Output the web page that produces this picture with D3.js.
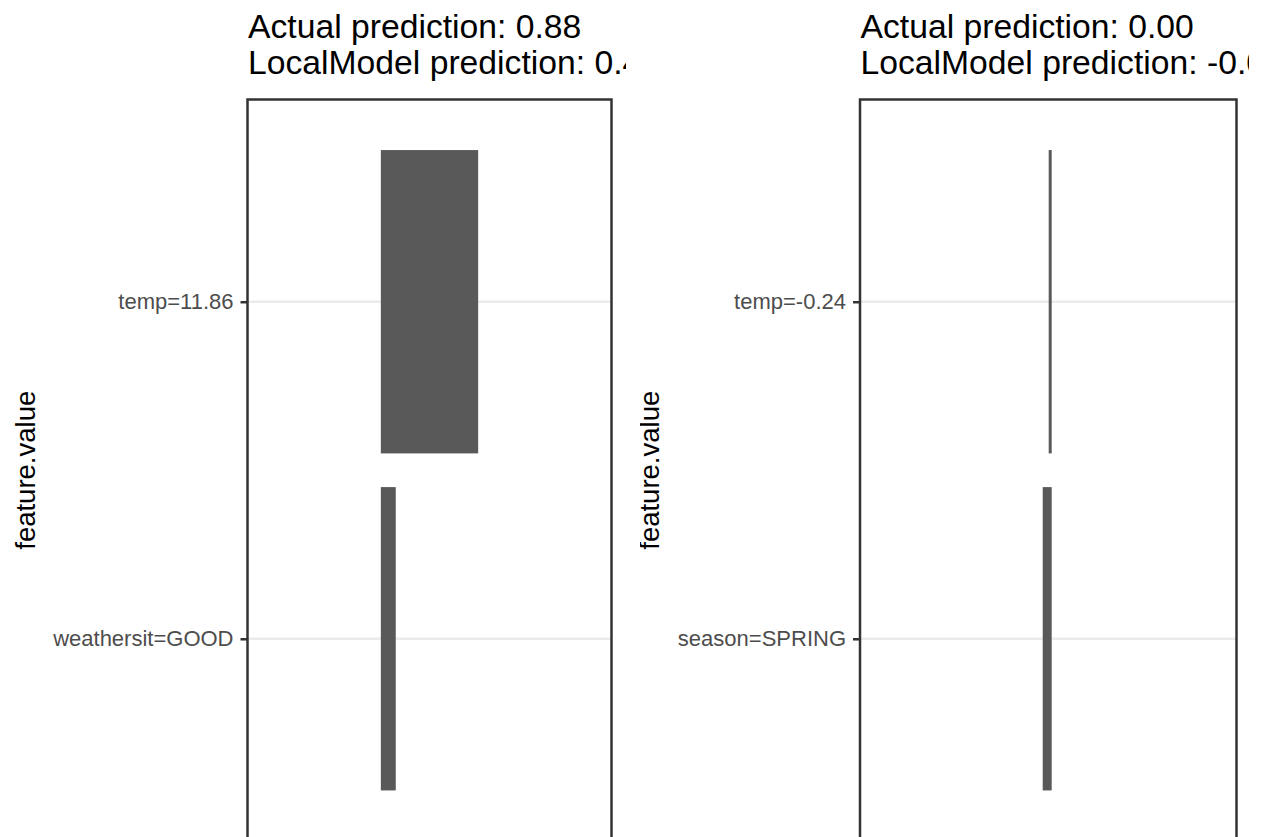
<!DOCTYPE html>
<html>
<head>
<meta charset="utf-8">
<script src="https://cdn.jsdelivr.net/npm/d3@7"></script>
<style>
  body { margin: 0; background: #fff; }
  svg { display: block; font-family: 'Liberation Sans', Arial, sans-serif; }
</style>
</head>
<body>
<div id="graf"></div>
<script>
// datos de los dos graficos
features1 = ['temp=11.86', 'weathersit=GOOD']
effects1  = [0.30, 0.046]
limits1   = [-0.36, 0.66]
titles1   = ['Actual prediction: 0.88', 'LocalModel prediction: 0.4']

features2 = ['temp=-0.24', 'season=SPRING']
effects2  = [-0.01, -0.03]
limits2   = [-0.583, 0.56]
titles2   = ['Actual prediction: 0.00', 'LocalModel prediction: -0.0']

axisTitle = 'feature.value'

ancho_total = 1263
alto_total  = 837

svg = d3.select('#graf').append('svg')
        .attr('width', ancho_total)
        .attr('height', alto_total)

defs = svg.append('defs')

// dibuja un panel completo
function drawPanel(opts) {
  var clipId = 'clip' + opts.id
  defs.append('clipPath').attr('id', clipId)
    .append('rect')
      .attr('x', opts.clipX0).attr('y', 0)
      .attr('width', opts.clipX1 - opts.clipX0).attr('height', alto_total)

  var g = svg.append('g').attr('clip-path', `url(#${clipId})`)

  // escalas
  var lim = opts.limits
  var exp = (lim[1] - lim[0]) * 0.05
  var x = d3.scaleLinear()
            .domain([lim[0] - exp, lim[1] + exp])
            .range([opts.left, opts.right])

  var y = d3.scalePoint()
            .domain(opts.features)
            .range([opts.top, opts.bottom])
            .padding(0.6)
  var bandH = y.step() * 0.9

  var data = opts.features.map((f, i) => ({ feature: f, effect: opts.effects[i] }))

  // lineas de grilla
  g.selectAll('line.grid')
    .data(opts.features)
    .enter().append('line')
      .attr('class', 'grid')
      .attr('x1', opts.left).attr('x2', opts.right)
      .attr('y1', d => y(d)).attr('y2', d => y(d))
      .style('stroke', '#ebebeb')
      .style('stroke-width', 2.6)

  // barras
  g.selectAll('rect.bar')
    .data(data)
    .enter().append('rect')
      .attr('class', 'bar')
      .attr('x', d => Math.min(x(0), x(d.effect)))
      .attr('width', d => Math.abs(x(d.effect) - x(0)))
      .attr('y', d => y(d.feature) - bandH / 2)
      .attr('height', bandH)
      .style('fill', '#595959')

  // borde del panel
  g.append('rect')
    .attr('x', opts.left).attr('y', opts.top)
    .attr('width', opts.right - opts.left)
    .attr('height', opts.bottom - opts.top)
    .style('fill', 'none')
    .style('stroke', '#333333')
    .style('stroke-width', 2.5)

  // eje y
  var yAxis = d3.axisLeft(y).tickSize(7).tickPadding(7)
  var ag = g.append('g')
    .attr('transform', `translate(${opts.left}, 0)`)
    .call(yAxis)
  ag.select('.domain').remove()
  ag.selectAll('.tick line').style('stroke', '#333333').style('stroke-width', 2.5)
  ag.selectAll('.tick text')
    .style('font-size', '22px')
    .style('fill', '#4d4d4d')
    .style('font-family', "'Liberation Sans', Arial, sans-serif")

  // titulo del eje
  g.append('text')
    .attr('transform', `translate(${opts.axisTitleX}, ${(opts.top + opts.bottom) / 2}) rotate(-90)`)
    .attr('text-anchor', 'middle')
    .style('font-size', '27.5px')
    .style('fill', '#000')
    .text(axisTitle)

  // titulo
  g.selectAll('text.title')
    .data(opts.titles)
    .enter().append('text')
      .attr('class', 'title')
      .attr('x', opts.left + 0.5)
      .attr('y', (d, i) => 38 + i * 36)
      .style('font-size', '33.7px')
      .style('fill', '#000')
      .text(d => d)
}

drawPanel({
  id: 1, features: features1, effects: effects1, limits: limits1, titles: titles1,
  left: 247.5, right: 611.5, top: 99.5, bottom: 841,
  clipX0: 0, clipX1: 626, axisTitleX: 35
})

drawPanel({
  id: 2, features: features2, effects: effects2, limits: limits2, titles: titles2,
  left: 860, right: 1236.5, top: 99.5, bottom: 841,
  clipX0: 640, clipX1: 1249, axisTitleX: 659
})
</script>
</body>
</html>
